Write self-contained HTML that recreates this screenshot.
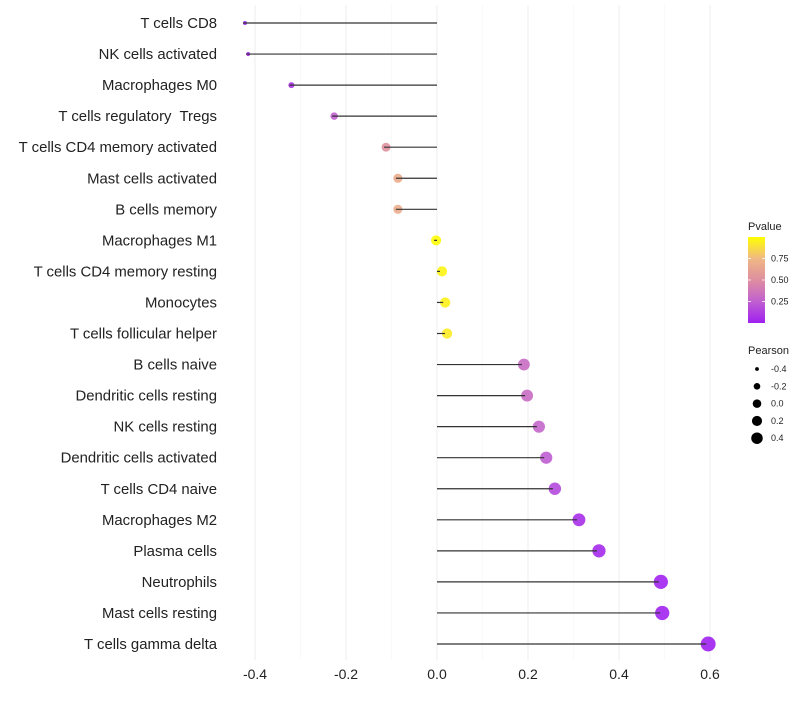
<!DOCTYPE html>
<html><head><meta charset="utf-8"><style>
body{margin:0;background:#fff;font-family:"Liberation Sans",sans-serif}
text{white-space:pre}
</style></head><body>
<svg id="chart" width="800" height="700" xmlns="http://www.w3.org/2000/svg"></svg>
<script>
const cells=["T cells CD8","NK cells activated","Macrophages M0","T cells regulatory  Tregs","T cells CD4 memory activated","Mast cells activated","B cells memory","Macrophages M1","T cells CD4 memory resting","Monocytes","T cells follicular helper","B cells naive","Dendritic cells resting","NK cells resting","Dendritic cells activated","T cells CD4 naive","Macrophages M2","Plasma cells","Neutrophils","Mast cells resting","T cells gamma delta"];
const pearson=[-0.422,-0.415,-0.32,-0.226,-0.112,-0.086,-0.086,-0.002,0.011,0.018,0.022,0.191,0.198,0.224,0.240,0.259,0.312,0.356,0.492,0.495,0.596];
const pvalue=[0.02,0.02,0.08,0.25,0.52,0.68,0.68,0.99,0.96,0.95,0.93,0.32,0.32,0.28,0.24,0.16,0.06,0.04,0.01,0.01,0.002];
const xTicks=[-0.4,-0.2,0.0,0.2,0.4,0.6];
const xMinor=[-0.3,-0.1,0.1,0.3,0.5];
const pTicks=[0.25,0.5,0.75];
const sizeTicks=[-0.4,-0.2,0.0,0.2,0.4];
const NS="http://www.w3.org/2000/svg";
const svg=document.getElementById('chart');
const x=v=>437+v*455;
const y=i=>23+i*31.05;
const r=v=>Math.sqrt(4+51*Math.max(0,v+0.42));
const stops=[[0,[160,32,240]],[0.25,[192,96,208]],[0.5,[222,142,160]],[0.75,[240,184,132]],[1,[255,255,0]]];
function col(p){for(let k=1;k<stops.length;k++){if(p<=stops[k][0]||k==stops.length-1){const [p0,a]=stops[k-1],[p1,b]=stops[k];const t=Math.max(0,Math.min(1,(p-p0)/(p1-p0)));
 return `rgb(${a.map((v,j)=>Math.round(v+(b[j]-v)*t)).join(',')})`;}}}
function el(t,a,txt){const e=document.createElementNS(NS,t);for(const k in a)e.setAttribute(k,a[k]);if(txt!=null)e.textContent=txt;svg.appendChild(e);return e;}
xMinor.forEach(v=>{const e=el('line',{x1:x(v),x2:x(v),y1:5,y2:660,stroke:'#f5f5f5','stroke-width':0.6});

});
xTicks.forEach(v=>{const e=el('line',{x1:x(v),x2:x(v),y1:5,y2:660,stroke:'#ececec','stroke-width':1});


const t=el('text',{x:x(v),y:679,'text-anchor':'middle','font-size':14,fill:'#222'},v.toFixed(1));

});
cells.forEach((c,i)=>{
const t=el('text',{x:217,y:y(i)+5,'text-anchor':'end','font-size':14.9,fill:'#222'},c);


const d=el('circle',{cx:x(pearson[i]),cy:y(i),r:r(pearson[i]),fill:col(pvalue[i]),'fill-opacity':0.9});


const s=el('line',{x1:x(0),x2:x(pearson[i])-2,y1:y(i),y2:y(i),stroke:'#333','stroke-width':1.2});

});
const lt=el('text',{x:748,y:230,'font-size':11,fill:'#222'},'Pvalue');


const defs=el('defs',{});
const g=document.createElementNS(NS,'linearGradient');g.setAttribute('id','pg');g.setAttribute('x1','0');g.setAttribute('y1','1');g.setAttribute('x2','0');g.setAttribute('y2','0');
[0,0.125,0.25,0.375,0.5,0.625,0.75,0.875,1].forEach(p=>{const s=document.createElementNS(NS,'stop');s.setAttribute('offset',p);s.setAttribute('stop-color',col(p));g.appendChild(s);});
defs.appendChild(g);
const cb=el('rect',{x:748,y:237,width:17,height:86,fill:'url(#pg)'});


pTicks.forEach(p=>{const yy=323-p*86;
el('line',{x1:748,x2:751,y1:yy,y2:yy,stroke:'#fff','stroke-width':0.8});el('line',{x1:762,x2:765,y1:yy,y2:yy,stroke:'#fff','stroke-width':0.8});
const t=el('text',{x:771,y:yy+3,'font-size':9,fill:'#222'},p.toFixed(2));

});
const st=el('text',{x:748,y:354,'font-size':11,fill:'#222'},'Pearson');


sizeTicks.forEach((v,i)=>{const yy=369+i*17.3;
const c=el('circle',{cx:757,cy:yy,r:r(v)*0.85,fill:'#000'});


const t=el('text',{x:771,y:yy+3,'font-size':9,fill:'#222'},v.toFixed(1));

});
</script>
</body></html>
